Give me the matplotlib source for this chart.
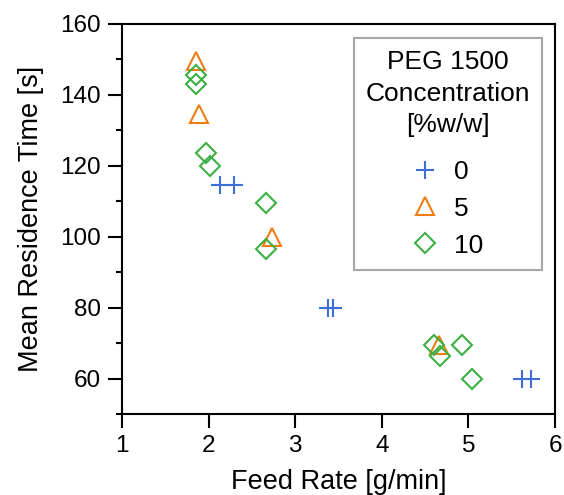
import matplotlib
matplotlib.use("Agg")
import matplotlib.pyplot as plt
from matplotlib.ticker import MultipleLocator

plt.rcParams['font.family'] = ['Liberation Sans', 'DejaVu Sans']

# feed rate [g/min] and mean residence time [s] for each PEG 1500 level
peg0_feed = [2.13, 2.29, 3.38, 3.44, 5.62, 5.72]
peg0_time = [114.5, 114.5, 80, 80, 60, 60]

peg5_feed = [1.86, 1.89, 2.73, 4.66]
peg5_time = [149.5, 134.5, 100, 69.5]

peg10_feed = [1.86, 1.86, 1.97, 2.02, 2.66, 2.66, 4.6, 4.67, 4.93, 5.04]
peg10_time = [145.5, 143, 123.5, 120, 109.5, 96.5, 69.5, 66.3, 69.5, 60]

labels = ["0", "5", "10"]
colors = ["#3E6FD8", "#ED7D11", "#3CB043"]

fig = plt.figure(figsize=(5.64, 4.95), dpi=100)
ax = fig.add_axes([122 / 564, 1 - 414 / 495, 433 / 564, 390 / 495])

ax.plot(peg0_feed, peg0_time, linestyle="none", marker="+", ms=13,
        mew=1.5, color=colors[0], label=labels[0])
ax.plot(peg5_feed, peg5_time, linestyle="none", marker="^", ms=13,
        mew=1.5, mfc="none", mec=colors[1], label=labels[1])
ax.plot(peg10_feed, peg10_time, linestyle="none", marker="D", ms=10,
        mew=1.5, mfc="none", mec=colors[2], label=labels[2])

ax.set_xlim(1, 6)
ax.set_ylim(50, 160)
ax.xaxis.set_major_locator(MultipleLocator(1))
ax.yaxis.set_major_locator(MultipleLocator(20))
ax.yaxis.set_minor_locator(MultipleLocator(10))
ax.set_yticks([60, 80, 100, 120, 140, 160])

for s in ax.spines.values():
    s.set_linewidth(1.5)
ax.tick_params(which="major", direction="out", length=10, width=1.5,
               labelsize=17.5, pad=5)
ax.tick_params(which="minor", direction="out", length=4.5, width=1.5)

ax.set_xlabel("Feed Rate [g/min]", fontsize=19.5, labelpad=9)
ax.set_ylabel("Mean Residence Time [s]", fontsize=19.5, labelpad=12)

leg = ax.legend(title="PEG 1500\nConcentration\n[%w/w]", fontsize=19,
                title_fontsize=19, loc="upper right",
                bbox_to_anchor=(0.97, 0.964), borderaxespad=0,
                fancybox=False, edgecolor="#A6A6A6", framealpha=1,
                handlelength=1.0, handletextpad=0.6, labelspacing=0.49,
                borderpad=0.45)
leg.get_frame().set_linewidth(1.5)
leg.get_title().set_multialignment("center")
leg.get_title().set_linespacing(1.4)
# a bit more room between the title block and the entries
leg._legend_box.sep += 7

fig.savefig("out.png", dpi=100)
